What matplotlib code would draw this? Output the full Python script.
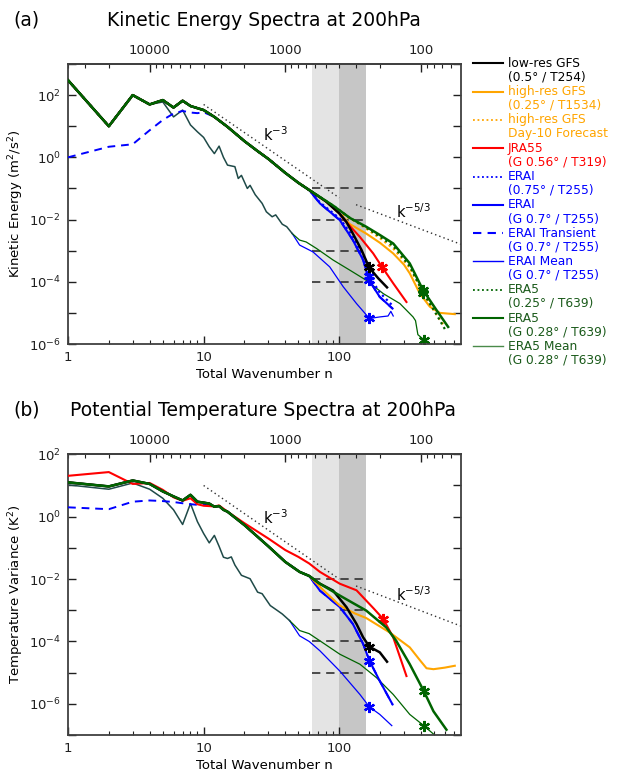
"""Kinetic energy and potential temperature spectra at 200 hPa (two panels)."""
import numpy as np
import matplotlib
matplotlib.use("Agg")
import matplotlib.pyplot as plt
from matplotlib.lines import Line2D
from matplotlib.ticker import FixedLocator, FuncFormatter, LogLocator, NullFormatter, NullLocator

W, H = 618, 774

# ── Panel (a): kinetic energy, log10(E) ──────────────────────────────────────
KE_N_LOW = [1, 2, 3, 4, 5, 6, 7, 8, 9, 10, 12, 15, 20, 25, 30, 40, 50, 60]
KE_LOW = [2.48, 1.0, 2.0, 1.7, 1.84, 1.6, 1.82, 1.65, 1.58, 1.52, 1.3, 0.98, 0.52, 0.2, -0.05, -0.5, -0.82, -1.05]

KE_BLACK_N = [80, 100, 107, 113, 126, 146, 166, 194, 225]
KE_BLACK = [-1.42, -1.8, -1.95, -2.08, -2.45, -2.98, -3.54, -3.89, -4.18]
KE_ORANGE_N = [80, 100, 120, 158, 200, 250, 300, 331, 393, 465, 551, 711]
KE_ORANGE = [-1.42, -1.8, -2.15, -2.45, -2.75, -3.09, -3.45, -3.73, -4.38, -4.8, -5.0, -5.04]
KE_ORANGE_DOT_N = [80, 100, 130, 158, 200, 250, 331, 415, 520, 600]
KE_ORANGE_DOT = [-1.42, -1.78, -2.05, -2.29, -2.6, -2.93, -3.55, -4.35, -5.05, -5.45]
KE_RED_N = [80, 100, 107, 142, 178, 208, 250, 313]
KE_RED = [-1.42, -1.8, -1.97, -2.56, -3.09, -3.54, -4.05, -4.65]
KE_BLUE_N = [72, 101, 126, 150, 166, 199, 247]
KE_BLUE = [-1.48, -2.02, -2.66, -3.3, -3.95, -4.49, -4.86]
KE_BLUE_DOT_N = [72, 101, 126, 150, 166, 199, 245]
KE_BLUE_DOT = [-1.45, -1.97, -2.55, -3.15, -3.8, -4.35, -4.75]
KE_GREEN_N = [90, 120, 158, 200, 250, 331, 415, 521, 635]
KE_GREEN = [-1.55, -1.95, -2.23, -2.5, -2.77, -3.41, -4.27, -4.91, -5.45]
KE_GREEN_DOT_N = [90, 120, 158, 200, 250, 331, 415, 521, 617]
KE_GREEN_DOT = [-1.55, -1.95, -2.26, -2.55, -2.85, -3.5, -4.35, -5.05, -5.61]

KE_TRANS_N = [1, 2, 3, 4, 5, 6, 7, 8, 9, 10]
KE_TRANS = [0.0, 0.34, 0.42, 0.87, 1.2, 1.41, 1.49, 1.44, 1.42, 1.45]

KE_MEAN_N = [1, 2, 3, 4, 5, 6, 7, 8, 9, 10, 11, 12, 13, 14, 15, 17, 18, 19, 21, 22,
             24, 27, 29, 32, 34, 38, 41, 45]
KE_MEAN = [2.48, 1.0, 2.0, 1.7, 1.78, 1.3, 1.52, 1.04, 0.82, 0.64, 0.34, 0.12, 0.36, 0.0,
           -0.25, -0.3, -0.68, -0.58, -1.0, -0.9, -1.2, -1.48, -1.75, -1.91, -1.85, -2.15,
           -2.23, -2.45]
KE_GMEAN_N = [51, 57, 68, 90, 120, 158, 211, 280, 350, 365, 380, 420, 478, 520]
KE_GMEAN = [-2.66, -2.72, -2.93, -3.3, -3.63, -3.95, -4.38, -4.7, -5.13, -5.25, -5.7, -5.86, -6.04, -6.2]
KE_BMEAN_N = [51, 64, 85, 107, 134, 167, 199, 229, 240, 250]
KE_BMEAN = [-2.82, -3.04, -3.52, -4.16, -4.7, -5.18, -5.13, -5.1, -4.95, -5.1]

# ── Panel (b): potential temperature variance, log10(T) ─────────────────────
TH_N_LOW = [1, 2, 3, 4, 5, 6, 7, 8, 9, 10, 11, 12, 13, 14, 15, 20, 30, 40, 51, 60]
TH_LOW = [1.1, 0.97, 1.16, 1.05, 0.81, 0.65, 0.52, 0.7, 0.48, 0.45, 0.42, 0.32, 0.34, 0.22,
          0.16, -0.27, -0.95, -1.45, -1.77, -1.9]

TH_RED_N = [1, 2, 3, 4, 5, 6, 7, 8, 9, 10, 12, 13, 15, 20, 30, 40, 50, 60, 72, 101, 134,
            158, 180, 211, 250, 313]
TH_RED = [1.31, 1.43, 1.05, 1.08, 0.86, 0.62, 0.51, 0.59, 0.4, 0.35, 0.33, 0.36, 0.16, -0.21,
          -0.7, -1.07, -1.29, -1.5, -1.77, -2.15, -2.36, -2.69, -2.95, -3.28, -3.87, -5.11]
TH_BLACK_N = [72, 90, 113, 134, 150, 167, 199, 225]
TH_BLACK = [-2.15, -2.37, -2.9, -3.44, -3.87, -4.17, -4.35, -4.65]
TH_GREEN_N = [72, 101, 158, 222, 263, 331, 420, 495, 617]
TH_GREEN = [-2.15, -2.53, -3.01, -3.55, -3.98, -4.73, -5.59, -6.24, -6.83]
TH_ORANGE_N = [76, 101, 130, 158, 237, 331, 393, 440, 495, 600, 711]
TH_ORANGE = [-2.35, -2.85, -3.1, -3.25, -3.72, -4.19, -4.6, -4.86, -4.89, -4.84, -4.78]
TH_BLUE_N = [72, 101, 126, 150, 167, 199, 247]
TH_BLUE = [-2.37, -2.9, -3.44, -4.08, -4.62, -5.27, -6.02]

TH_TRANS_N = [1, 2, 3, 4, 5, 6, 7, 8, 9, 10]
TH_TRANS = [0.3, 0.24, 0.48, 0.52, 0.5, 0.47, 0.43, 0.4, 0.38, 0.4]

TH_MEAN_N = [1, 2, 3, 4, 5, 6, 7, 8, 9, 10, 11, 12, 13, 14, 15, 16, 17, 19, 22, 25, 27,
             31, 35, 38, 43]
TH_MEAN = [1.02, 0.88, 1.08, 0.88, 0.59, 0.22, -0.25, 0.42, -0.16, -0.54, -0.84, -0.6, -0.95,
           -1.3, -1.34, -1.29, -1.55, -1.88, -1.99, -2.42, -2.47, -2.85, -3.01, -3.12, -3.33]
TH_GMEAN_N = [51, 60, 72, 101, 142, 188, 250, 331, 420, 495, 560]
TH_GMEAN = [-3.65, -3.75, -3.98, -4.41, -4.73, -5.16, -5.7, -6.34, -6.7, -6.97, -7.2]
TH_BMEAN_N = [51, 60, 72, 101, 142, 167, 199, 244]
TH_BMEAN = [-3.82, -4.0, -4.3, -4.95, -5.7, -6.1, -6.34, -6.7]

# truncation wavenumbers marked with asterisks
KE_STAR = {"black": 166, "red": 208, "blue": 166, "blue_dot": 166, "bmean": 167,
           "green": 415, "green_dot": 415, "gmean": 420}
TH_STAR = {"black": 167, "red": 211, "blue": 167, "bmean": 167, "green": 420, "gmean": 420}

# shading (n) and dashed reference levels
SHADE_EDGES = [63, 100, 158]
KE_DASH_LEVELS = [1e-1, 1e-2, 1e-3, 1e-4]
TH_DASH_LEVELS = [1e-2, 1e-3, 1e-4, 1e-5]

# power-law guide end points (n, value)
KE_K3 = ([10, 100], [50, 0.05])
KE_K53 = ([133, 790], [0.03, 0.0016])
TH_K3 = ([10, 100], [10, 0.01])
TH_K53 = ([133, 790], [0.006, 0.00031])

LEGEND_LINE1 = ["low-res GFS", "high-res GFS", "high-res GFS", "JRA55", "ERAI", "ERAI",
                "ERAI Transient", "ERAI Mean", "ERA5", "ERA5", "ERA5 Mean"]
LEGEND_LINE2 = ["(0.5° / T254)", "(0.25° / T1534)", "Day-10 Forecast", "(G 0.56° / T319)",
                "(0.75° / T255)", "(G 0.7° / T255)", "(G 0.7° / T255)", "(G 0.7° / T255)",
                "(0.25° / T639)", "(G 0.28° / T639)", "(G 0.28° / T639)"]

BLACK, ORANGE, RED, BLUE, GREEN = "#000000", "#FFA500", "#FF0000", "#0000FF", "#006400"
TEAL = "#1f4a48"          # where the two thin "Mean" lines lie on top of each other
DOT = (0, (1, 1.5))
SOLID, DASH = "-", (0, (4, 3))

LEGEND_STYLE = [
    (BLACK, SOLID, 1.5), (ORANGE, SOLID, 1.5), (ORANGE, DOT, 1.3), (RED, SOLID, 1.5),
    (BLUE, DOT, 1.3), (BLUE, SOLID, 1.5), (BLUE, DASH, 1.5), (BLUE, SOLID, 1.0),
    (GREEN, DOT, 1.3), (GREEN, SOLID, 1.5), ("#4a8a4a", SOLID, 1.0),
]


def join(n1, v1, n2=(), v2=()):
    n = np.array(list(n1) + list(n2), dtype=float)
    v = np.power(10.0, np.array(list(v1) + list(v2), dtype=float))
    return n, v


def n_to_km(n):
    n = np.array(n, dtype=float)
    with np.errstate(divide="ignore", invalid="ignore"):
        return 40000.0 / n


def km_to_n(km):
    km = np.array(km, dtype=float)
    with np.errstate(divide="ignore", invalid="ignore"):
        return 40000.0 / km


def fx(px):
    return px / W


def fy(py):
    return 1 - py / H


def draw_curve(ax, n, v, color, ls, lw, star=None, z=3):
    mk = None
    if star is not None:
        mk = [int(np.where(n == star)[0][0])]
    ax.plot(n, v, color=color, linestyle=ls, linewidth=lw, zorder=z,
            marker=(6, 2, 0) if mk else None, markevery=mk, markersize=8,
            markeredgewidth=1.6, markeredgecolor=color)


def draw_means(ax, mean_n, mean_v, b_n, b_v, g_n, g_v, b_star, g_star):
    # the two tails start from the last shared point
    draw_curve(ax, *join(mean_n[-1:], mean_v[-1:], b_n, b_v), BLUE, SOLID, 0.9, b_star, 2)
    draw_curve(ax, *join(mean_n[-1:], mean_v[-1:], g_n, g_v), GREEN, SOLID, 0.9, g_star, 2)
    draw_curve(ax, *join(mean_n, mean_v), TEAL, SOLID, 1.1, None, 2)


def style_axes(ax, ylim, ylabel):
    ax.set_xscale("log")
    ax.set_yscale("log")
    ax.set_xlim(1, 790)
    ax.set_ylim(*ylim)
    ax.xaxis.set_major_locator(FixedLocator([1, 10, 100]))
    ax.xaxis.set_major_formatter(FuncFormatter(lambda v, p: f"{v:.0f}"))
    ax.xaxis.set_minor_locator(LogLocator(base=10, subs=np.arange(2, 10), numticks=20))
    ax.xaxis.set_minor_formatter(NullFormatter())
    lo, hi = np.log10(ylim)
    ax.yaxis.set_major_locator(FixedLocator(10.0 ** np.arange(lo, hi + 1)))
    ax.yaxis.set_major_formatter(FuncFormatter(
        lambda v, p: (r"$10^{%d}$" % round(np.log10(v))) if round(np.log10(v)) % 2 == 0 else ""))
    ax.yaxis.set_minor_locator(NullLocator())
    ax.tick_params(which="both", direction="in", top=False, right=True, labelsize=9.5,
                   colors="#202020")
    ax.tick_params(which="major", length=6, width=1.0, pad=5)
    ax.tick_params(which="minor", length=3, width=0.8)
    for sp in ax.spines.values():
        sp.set_linewidth(1.3)
        sp.set_color("#404040")
    ax.set_xlabel("Total Wavenumber n", fontsize=9.5, labelpad=3)
    ax.set_ylabel(ylabel, fontsize=9.5, labelpad=2)

    sec = ax.secondary_xaxis("top", functions=(n_to_km, km_to_n))
    sec.xaxis.set_major_locator(FixedLocator([100, 1000, 10000]))
    sec.xaxis.set_major_formatter(FuncFormatter(lambda v, p: f"{v:.0f}"))
    sec.xaxis.set_minor_locator(LogLocator(base=10, subs=np.arange(2, 10), numticks=20))
    sec.xaxis.set_minor_formatter(NullFormatter())
    sec.tick_params(which="both", direction="in", labelsize=9.5, colors="#202020")
    sec.tick_params(which="major", length=6, width=1.0, pad=5)
    sec.tick_params(which="minor", length=3, width=0.8)
    sec.spines["top"].set_linewidth(1.3)
    sec.spines["top"].set_color("#404040")


def guides(ax, dash_levels, k3, k53, k3_pos, k53_pos):
    ax.axvspan(SHADE_EDGES[0], SHADE_EDGES[1], color="#e4e4e4", lw=0, zorder=0)
    ax.axvspan(SHADE_EDGES[1], SHADE_EDGES[2], color="#c6c6c6", lw=0, zorder=0)
    for lev in dash_levels:
        ax.plot([SHADE_EDGES[0], SHADE_EDGES[2]], [lev, lev], color="#303030",
                linestyle=(0, (5, 3.5)), lw=1.2, zorder=1)
    ax.plot(*k3, color="#303030", linestyle=(0, (1, 2.2)), lw=1.0, zorder=1)
    ax.plot(*k53, color="#303030", linestyle=(0, (1, 2.2)), lw=1.0, zorder=1)
    ax.text(*k3_pos, r"k$^{-3}$", fontsize=10.5, ha="center", va="center")
    ax.text(*k53_pos, r"k$^{-5/3}$", fontsize=10.5, ha="center", va="center")


fig = plt.figure(figsize=(W / 100, H / 100), dpi=100)
ax_a = fig.add_axes([fx(68), fy(344), fx(461 - 68), (344 - 64) / H])
ax_b = fig.add_axes([fx(68), fy(735), fx(461 - 68), (735 - 454.3) / H])

# ── panel (a) ────────────────────────────────────────────────────────────────
ax = ax_a
guides(ax, KE_DASH_LEVELS, KE_K3, KE_K53, (34, 10 ** 0.72), (355, 10 ** -1.75))
draw_means(ax, KE_MEAN_N, KE_MEAN, KE_BMEAN_N, KE_BMEAN, KE_GMEAN_N, KE_GMEAN,
           KE_STAR["bmean"], KE_STAR["gmean"])
draw_curve(ax, *join(KE_TRANS_N + KE_N_LOW[10:], KE_TRANS + KE_LOW[10:], KE_BLUE_N, KE_BLUE),
           BLUE, DASH, 1.4, None, 3)
draw_curve(ax, *join(KE_N_LOW, KE_LOW, KE_BLUE_DOT_N, KE_BLUE_DOT), BLUE, DOT, 1.6,
           KE_STAR["blue_dot"], 3)
draw_curve(ax, *join(KE_N_LOW, KE_LOW, KE_BLUE_N, KE_BLUE), BLUE, SOLID, 1.5, KE_STAR["blue"], 3)
draw_curve(ax, *join(KE_N_LOW, KE_LOW, KE_ORANGE_DOT_N, KE_ORANGE_DOT), ORANGE, DOT, 1.6, None, 3)
draw_curve(ax, *join(KE_N_LOW, KE_LOW, KE_ORANGE_N, KE_ORANGE), ORANGE, SOLID, 1.5, None, 3)
draw_curve(ax, *join(KE_N_LOW, KE_LOW, KE_RED_N, KE_RED), RED, SOLID, 1.5, KE_STAR["red"], 3)
draw_curve(ax, *join(KE_N_LOW, KE_LOW, KE_GREEN_DOT_N, KE_GREEN_DOT), GREEN, DOT, 1.6,
           KE_STAR["green_dot"], 3)
draw_curve(ax, *join(KE_N_LOW, KE_LOW, KE_BLACK_N, KE_BLACK), BLACK, SOLID, 1.8, KE_STAR["black"], 4)
draw_curve(ax, *join(KE_N_LOW, KE_LOW, KE_GREEN_N, KE_GREEN), GREEN, SOLID, 1.8, KE_STAR["green"], 4)
style_axes(ax, (1e-6, 1e3), r"Kinetic Energy (m$^2$/s$^2$)")

# ── panel (b) ────────────────────────────────────────────────────────────────
ax = ax_b
guides(ax, TH_DASH_LEVELS, TH_K3, TH_K53, (34, 10 ** -0.02), (355, 10 ** -2.5))
draw_means(ax, TH_MEAN_N, TH_MEAN, TH_BMEAN_N, TH_BMEAN, TH_GMEAN_N, TH_GMEAN,
           TH_STAR["bmean"], TH_STAR["gmean"])
draw_curve(ax, *join(TH_TRANS_N + TH_N_LOW[10:], TH_TRANS + TH_LOW[10:], TH_BLUE_N, TH_BLUE),
           BLUE, DASH, 1.4, None, 3)
draw_curve(ax, *join(TH_N_LOW, TH_LOW, TH_BLUE_N, TH_BLUE), BLUE, SOLID, 1.5, TH_STAR["blue"], 3)
draw_curve(ax, *join(TH_N_LOW, TH_LOW, TH_ORANGE_N, TH_ORANGE), ORANGE, SOLID, 1.5, None, 3)
draw_curve(ax, *join(TH_RED_N, TH_RED), RED, SOLID, 1.5, TH_STAR["red"], 3)
draw_curve(ax, *join(TH_N_LOW, TH_LOW, TH_BLACK_N, TH_BLACK), BLACK, SOLID, 1.8, TH_STAR["black"], 4)
draw_curve(ax, *join(TH_N_LOW, TH_LOW, TH_GREEN_N, TH_GREEN), GREEN, SOLID, 1.8, TH_STAR["green"], 4)
style_axes(ax, (1e-7, 1e2), r"Temperature Variance (K$^2$)")

# ── titles ───────────────────────────────────────────────────────────────────
fig.text(fx(13), fy(20), "(a)", fontsize=13.5, ha="left", va="center")
fig.text(fx(264), fy(20), "Kinetic Energy Spectra at 200hPa", fontsize=13.5,
         ha="center", va="center")
fig.text(fx(13), fy(410), "(b)", fontsize=13.5, ha="left", va="center")
fig.text(fx(263), fy(410), "Potential Temperature Spectra at 200hPa", fontsize=13.5,
         ha="center", va="center")

# ── legend (drawn by hand, two text lines per entry) ─────────────────────────
for i, (l1, l2) in enumerate(zip(LEGEND_LINE1, LEGEND_LINE2)):
    color, ls, lw = LEGEND_STYLE[i]
    y0 = 63.3 + 28.3 * i
    fig.add_artist(Line2D([fx(473), fx(503)], [fy(y0), fy(y0)], color=color,
                          linestyle=ls, linewidth=lw, transform=fig.transFigure))
    tcol = "#1a5a1a" if color in (GREEN, "#4a8a4a") else color
    fig.text(fx(508), fy(y0), l1, color=tcol, fontsize=8.8, ha="left", va="center")
    fig.text(fx(508), fy(y0 + 13.8), l2, color=tcol, fontsize=8.8, ha="left", va="center")

fig.savefig("out.png", dpi=100)
